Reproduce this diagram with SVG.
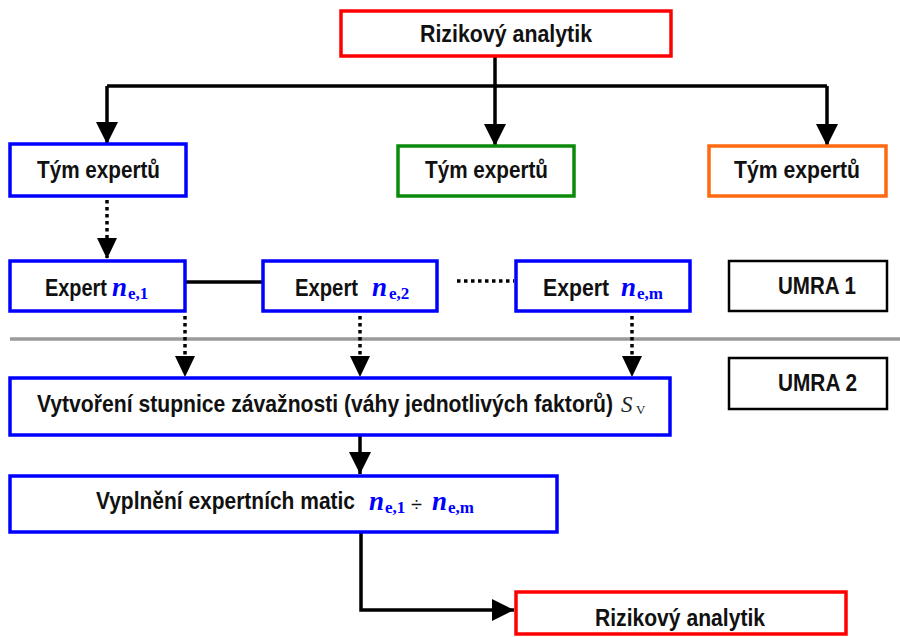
<svg xmlns="http://www.w3.org/2000/svg" width="900" height="637" viewBox="0 0 900 637">
<defs>
<marker id="ah" markerUnits="userSpaceOnUse" markerWidth="22" markerHeight="22" viewBox="0 0 20 20" refX="20" refY="10" orient="auto">
<path d="M0,0 L20,10 L0,20 Z" fill="#000"/>
</marker>
<style>
.box{fill:#fff;stroke-width:3.5}
.blue{stroke:#0000ff}
.red{stroke:#ff0000}
.green{stroke:#0a8a0a}
.orange{stroke:#ff6a10}
.blk{stroke:#000;stroke-width:2.5}
.t{font-family:"Liberation Sans Narrow","Liberation Sans",Arial,sans-serif;font-weight:bold;font-size:24px;fill:#111}
.n{font-family:"Liberation Serif","Times New Roman",serif;font-weight:bold;font-style:italic;font-size:27px;fill:#0000ff}
.sub{font-family:"Liberation Serif","Times New Roman",serif;font-weight:bold;font-size:17px;fill:#0000ff}
.sv{font-family:"Liberation Serif","Times New Roman",serif;font-style:italic;font-size:23px;fill:#222}
.svs{font-family:"Liberation Serif","Times New Roman",serif;font-size:13px;fill:#222}
.ln{fill:none;stroke:#000;stroke-width:3.5}
.dot{fill:none;stroke:#000;stroke-width:3.5;stroke-dasharray:3.5 3.5}
</style>
</defs>
<g id="connectors">
<line x1="10" y1="339" x2="900" y2="339" stroke="#9a9a9a" stroke-width="3.5"/>
<polyline class="ln" points="495,56 495,86 495,146" marker-end="url(#ah)"/>
<polyline class="ln" points="107,86 827,86"/>
<line class="ln" x1="107" y1="86" x2="107" y2="144" marker-end="url(#ah)"/>
<line class="ln" x1="827" y1="86" x2="827" y2="146" marker-end="url(#ah)"/>
<line class="dot" x1="107" y1="200" x2="107" y2="258"/>
<path d="M97,238 L117,238 L107,259 Z" fill="#000"/>
<line class="ln" x1="186" y1="282" x2="263" y2="282"/>
<line class="dot" x1="457" y1="281" x2="514" y2="281"/>
<line class="dot" x1="185" y1="316" x2="185" y2="358"/>
<path d="M175,356 L195,356 L185,377 Z" fill="#000"/>
<line class="dot" x1="360" y1="316" x2="360" y2="358"/>
<path d="M350,356 L370,356 L360,377 Z" fill="#000"/>
<line class="dot" x1="632" y1="316" x2="632" y2="358"/>
<path d="M622,356 L642,356 L632,377 Z" fill="#000"/>
<line class="ln" x1="360" y1="436" x2="360" y2="474" marker-end="url(#ah)"/>
<polyline class="ln" points="361,533 361,610 514,610" marker-end="url(#ah)"/>
</g>
<g id="top-analyst">
<rect class="box red" x="341" y="11" width="330" height="45"/>
<text class="t" x="420" y="42" textLength="172" lengthAdjust="spacingAndGlyphs">Rizikový analytik</text>
</g>
<g id="team1">
<rect class="box blue" x="10" y="144" width="176" height="52"/>
<text class="t" x="37" y="178" textLength="123" lengthAdjust="spacingAndGlyphs">Tým expertů</text>
</g>
<g id="team2">
<rect class="box green" x="398" y="146" width="176" height="50"/>
<text class="t" x="425" y="178" textLength="123" lengthAdjust="spacingAndGlyphs">Tým expertů</text>
</g>
<g id="team3">
<rect class="box orange" x="709" y="146" width="177" height="50"/>
<text class="t" x="734" y="178" textLength="126" lengthAdjust="spacingAndGlyphs">Tým expertů</text>
</g>
<g id="expert1">
<rect class="box blue" x="10" y="261" width="175" height="50"/>
<text class="t" x="45" y="296" textLength="62" lengthAdjust="spacingAndGlyphs">Expert</text>
<text class="n" x="112" y="296">n</text>
<text class="sub" x="128" y="299">e,1</text>
</g>
<g id="expert2">
<rect class="box blue" x="263" y="261" width="174" height="50"/>
<text class="t" x="295" y="296" textLength="63" lengthAdjust="spacingAndGlyphs">Expert</text>
<text class="n" x="372" y="296">n</text>
<text class="sub" x="389" y="299">e,2</text>
</g>
<g id="expertm">
<rect class="box blue" x="516" y="261" width="174" height="50"/>
<text class="t" x="543" y="296" textLength="66" lengthAdjust="spacingAndGlyphs">Expert</text>
<text class="n" x="621" y="296">n</text>
<text class="sub" x="637" y="299">e,m</text>
</g>
<g id="umra1">
<rect class="box blk" x="729" y="261" width="158" height="50"/>
<text class="t" x="778" y="294" textLength="78" lengthAdjust="spacingAndGlyphs">UMRA 1</text>
</g>
<g id="umra2">
<rect class="box blk" x="729" y="358" width="158" height="51"/>
<text class="t" x="778" y="391" textLength="79" lengthAdjust="spacingAndGlyphs">UMRA 2</text>
</g>
<g id="scale">
<rect class="box blue" x="10" y="378" width="660" height="57"/>
<text class="t" x="37" y="412" textLength="576" lengthAdjust="spacingAndGlyphs">Vytvoření stupnice závažnosti (váhy jednotlivých faktorů)</text>
<text class="sv" x="621" y="412">S</text>
<text class="svs" x="636" y="414">V</text>
</g>
<g id="matrices">
<rect class="box blue" x="10" y="476" width="547" height="56"/>
<text class="t" x="96" y="509" textLength="259" lengthAdjust="spacingAndGlyphs">Vyplnění expertních matic</text>
<text class="n" x="369" y="510">n</text>
<text class="sub" x="385" y="513">e,1</text>
<text x="411" y="511" font-family="Liberation Sans, Arial, sans-serif" font-size="20" fill="#111">÷</text>
<text class="n" x="432" y="510">n</text>
<text class="sub" x="448" y="513">e,m</text>
</g>
<g id="bottom-analyst">
<rect class="box red" x="516" y="592" width="330" height="42"/>
<text class="t" x="595" y="626" textLength="170" lengthAdjust="spacingAndGlyphs">Rizikový analytik</text>
</g>
</svg>
